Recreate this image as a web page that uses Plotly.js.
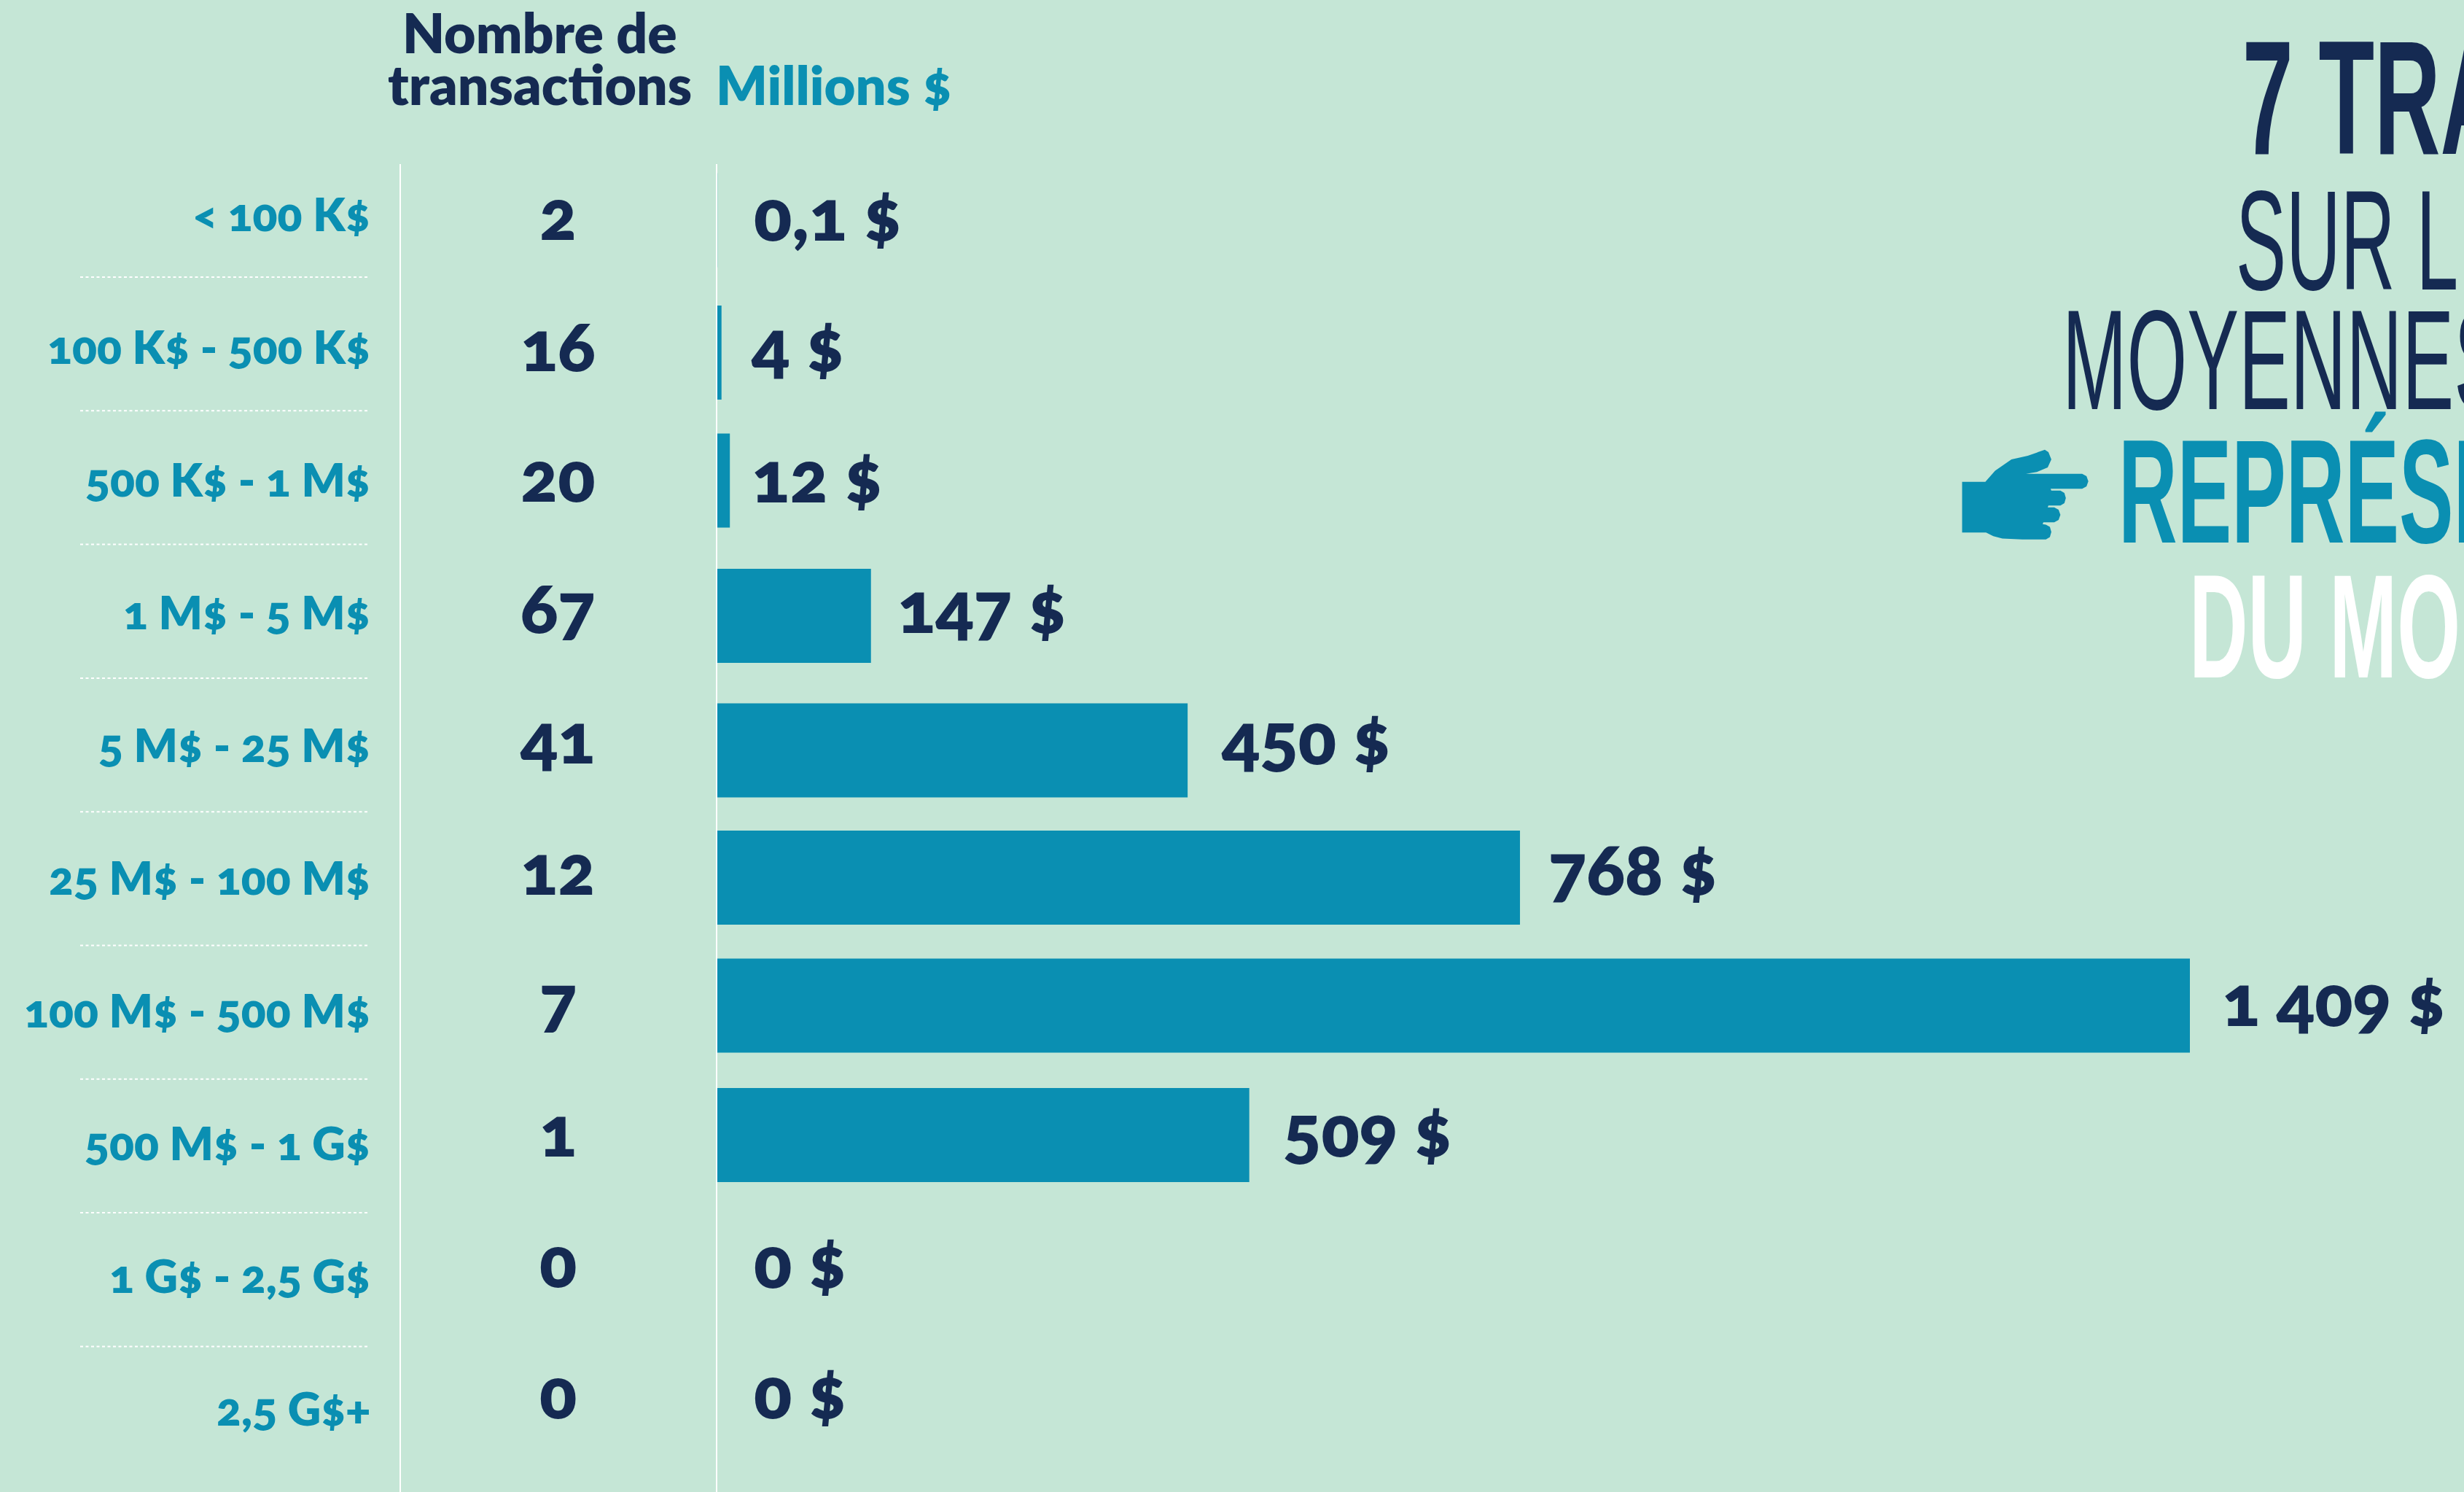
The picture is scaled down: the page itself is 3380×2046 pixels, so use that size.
<!DOCTYPE html>
<html><head><meta charset="utf-8">
<script src="https://cdn.plot.ly/plotly-3.0.1.min.js"></script>
<style>
html,body{margin:0;padding:0;background:#c5e6d6;overflow:hidden}
#chart{width:3380px;height:2046px}
svg text{font-variant-numeric:oldstyle-nums;font-feature-settings:"onum" 1}
</style></head><body><div id="chart"></div>
<script>
const categories=["< 100 K$","100 K$ - 500 K$","500 K$ - 1 M$","1 M$ - 5 M$","5 M$ - 25 M$","25 M$ - 100 M$","100 M$ - 500 M$","500 M$ - 1 G$","1 G$ - 2,5 G$","2,5 G$+"];
const transactions=[2,16,20,67,41,12,7,1,0,0];
const millions=[0.1,4,12,147,450,768,1409,509,0,0];
const millionLabels=["0,1 $","4 $","12 $","147 $","450 $","768 $","1 409 $","509 $","0 $","0 $"];
const headerLines=["Nombre de","transactions","Millions $"];
const titleLines=["7 TRA","SUR L","MOYENNES","REPRÉSE","DU MO"];

const W=3380,H=2046,NAVY="#152a52",TEAL="#0a8fb2",BG="#c5e6d6";
const px=v=>v/W, py=v=>1-v/H;
const SANS="Lato, 'Open Sans', sans-serif", COND="'Liberation Sans Narrow', 'Liberation Sans', sans-serif";
const pxPerUnit=2020/1409, zeroX=984;
const rowTop=302,rowStep=179.5,barWidth=0.72;
const barNudge=[0,2,-2,4,9,4,0,-2,0,0];
const labelGap=[48,38,28,34,44,37,42,44,48,48];

const anns=[];
categories.forEach((c,i)=>{
  anns.push({xref:"paper",yref:"y",x:px(510),y:c,yshift:10-2.5*i,xanchor:"right",yanchor:"middle",showarrow:false,text:c,
    font:{family:SANS,size:63,color:TEAL,weight:800}});
  anns.push({xref:"paper",yref:"y",x:px(765),y:c,yshift:10,xanchor:"center",yanchor:"middle",showarrow:false,text:String(transactions[i]),
    font:{family:SANS,size:95,color:NAVY,weight:800}});
  anns.push({xref:"x",yref:"y",x:millions[i],y:c,yshift:10,xshift:labelGap[i],xanchor:"left",yanchor:"middle",showarrow:false,text:millionLabels[i],
    font:{family:SANS,size:97,color:NAVY,weight:800}});
});
[[740,91,"center",NAVY],[740,162,"center",NAVY],[980,162,"left",TEAL]].forEach((h,i)=>anns.push({xref:"paper",yref:"paper",x:px(h[0]),y:py(h[1]),xanchor:h[2],yanchor:"bottom",showarrow:false,text:headerLines[i],
  font:{family:SANS,size:i==2?74:75,color:h[3],weight:800}}));
const titleSpec=[
 {x:3074,base:209,size:222,len:362,color:NAVY,weight:700},
 {x:3065,base:395,size:194,len:305,color:NAVY,weight:400},
 {x:2827,base:559,size:194,len:608,color:NAVY,weight:400},
 {x:2904,base:742,size:202,len:534,color:TEAL,weight:700},
 {x:3001,base:927,size:202,len:372,color:"#ffffff",weight:700}];
const titleStart=anns.length;
titleSpec.forEach((t,i)=>anns.push({xref:"paper",yref:"paper",x:px(t.x),y:py(t.base+t.size*0.212+4),xanchor:"left",yanchor:"bottom",showarrow:false,text:titleLines[i],
  font:{family:COND,size:t.size,color:t.color,weight:t.weight}}));

const shapes=[];
[549,983].forEach(x=>shapes.push({type:"line",xref:"paper",yref:"paper",x0:px(x),x1:px(x),y0:py(225),y1:0,line:{color:"#ffffff",width:2}}));
for(let i=0;i<9;i++){const y=py(380+183.3*i);
  shapes.push({type:"line",xref:"paper",yref:"paper",x0:px(110),x1:px(506),y0:y,y1:y,line:{color:"#ffffff",width:2,dash:"4px 3.5px"}});}
const hand=[[184,1036],[248,1036],[275,1012],[320,988],[365,980],[412,967],[422,972],[430,988],[420,1005],[390,1015],[360,1019],[515,1019],[527,1024],[532,1035],[527,1046],[515,1051],[428,1051],[430,1055],[455,1055],[466,1060],[470,1071],[466,1082],[455,1087],[422,1087],[420,1091],[438,1091],[450,1096],[455,1107],[450,1118],[438,1123],[408,1123],[406,1127],[415,1128],[426,1133],[430,1144],[426,1155],[415,1160],[350,1160],[295,1158],[270,1153],[250,1145],[184,1145]];
shapes.push({type:"path",xref:"paper",yref:"paper",fillcolor:TEAL,line:{width:0},
  path:"M"+hand.map(p=>px(2600+p[0]/2.01)+","+py(p[1]/1.568)).join(" L")+" Z"});

const trace={type:"bar",orientation:"h",y:categories,x:millions,width:barWidth,offset:barNudge.map(n=>-barWidth/2+n/rowStep),marker:{color:TEAL,line:{width:0}},hoverinfo:"skip",showlegend:false};
const layout={width:W,height:H,margin:{l:0,r:0,t:0,b:0,pad:0},paper_bgcolor:BG,plot_bgcolor:BG,showlegend:false,
  xaxis:{visible:false,range:[-zeroX/pxPerUnit,(W-zeroX)/pxPerUnit],fixedrange:true},
  yaxis:{visible:false,type:"category",categoryorder:"array",categoryarray:categories,range:[(H-rowTop)/rowStep,-rowTop/rowStep],fixedrange:true},
  annotations:anns,shapes:shapes};
Plotly.newPlot("chart",[trace],layout,{displayModeBar:false,staticPlot:true}).then(gd=>{
  gd.querySelectorAll(".annotation").forEach(g=>{
    const idx=+g.getAttribute("data-index");
    if(idx>=titleStart){const t=g.querySelector("text");const s=titleSpec[idx-titleStart];
      const w=t.getComputedTextLength(),x0=parseFloat(t.getAttribute("x"));
      t.setAttribute("text-anchor","start");t.setAttribute("x",x0-w/2);
      t.setAttribute("textLength",s.len);t.setAttribute("lengthAdjust","spacingAndGlyphs");}
  });
});
</script></body></html>
